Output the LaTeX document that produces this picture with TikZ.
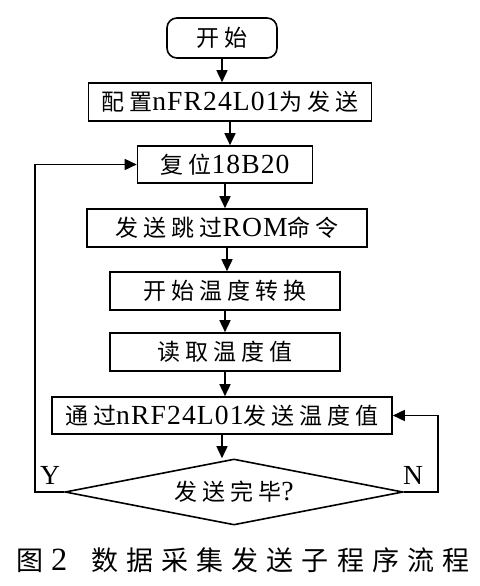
\documentclass[tikz,border=0pt]{standalone}
\usepackage{fontspec}
\setmainfont{Liberation Serif}[Scale=1.2,LetterSpace=4]
\newfontfamily\cjk{Noto Sans CJK SC}[LetterSpace=22]
\newfontfamily\capcjk{Noto Sans CJK SC}[LetterSpace=30]
\usetikzlibrary{shapes.geometric,arrows.meta}

\begin{document}
\begin{tikzpicture}[x=1pt,y=-1pt,
   every node/.style={font=\fontsize{23}{23}\selectfont},
   stepbox/.style={draw,line width=1.6pt,minimum height=38pt,inner sep=0pt},
   startbox/.style={stepbox,rounded corners=10pt},
   testbox/.style={draw,diamond,aspect=5,line width=1.6pt,inner sep=0pt,
      minimum width=338pt,minimum height=66pt},
   arr/.style={line width=1.6pt,-{Triangle[length=12pt,width=11pt]}}]
\useasboundingbox (0,0) rectangle (479,586);
\node[startbox,minimum width=110pt,minimum height=40pt] (start) at (222,38) {\cjk 开始};
\node[stepbox,minimum width=283pt] (config) at (230,102) {{\cjk 配置}nFR24L01{\cjk 为发送}};
\node[stepbox,minimum width=175pt,minimum height=37pt] (reset) at (225,164.5) {{\cjk 复位}18B20};
\node[stepbox,minimum width=280pt] (skip) at (227,228) {{\cjk 发送跳过}ROM{\cjk 命令}};
\node[stepbox,minimum width=230pt] (convert) at (225,291) {\cjk 开始温度转换};
\node[stepbox,minimum width=230pt] (read) at (225,352) {\cjk 读取温度值};
\node[stepbox,minimum width=340pt,minimum height=37pt] (send) at (222,415.5) {{\cjk 通过}nRF24L01{\cjk 发送温度值}};
\node[testbox] (done) at (234,492) {{\cjk 发送完毕}?};
\node (yes) at (50,475) {Y};
\node (no) at (413,475) {N};
\coordinate (leftloop) at (35,0);
\coordinate (rightloop) at (438,0);
% main flow
\draw[arr] (start) -- (start |- config.north);
\draw[arr] (config) -- (config |- reset.north);
\draw[arr] (reset) -- (reset |- skip.north);
\draw[arr] (skip) -- (skip |- convert.north);
\draw[arr] (convert) -- (convert |- read.north);
\draw[arr] (read) -- (read |- send.north);
\draw[arr] (send) -- (send |- done.north);
% loops
\draw[arr] (done.west) -- (done.west -| leftloop) |- (reset.west);
\draw[arr] (done.east) -- (done.east -| rightloop) |- (send.east);
\node[anchor=west,font=\fontsize{27}{27}\selectfont] (caption) at (12,560)
   {{\capcjk 图}\hspace{8pt}2\hspace{24pt}{\capcjk 数据采集发送子程序流程}};
\end{tikzpicture}
\end{document}
